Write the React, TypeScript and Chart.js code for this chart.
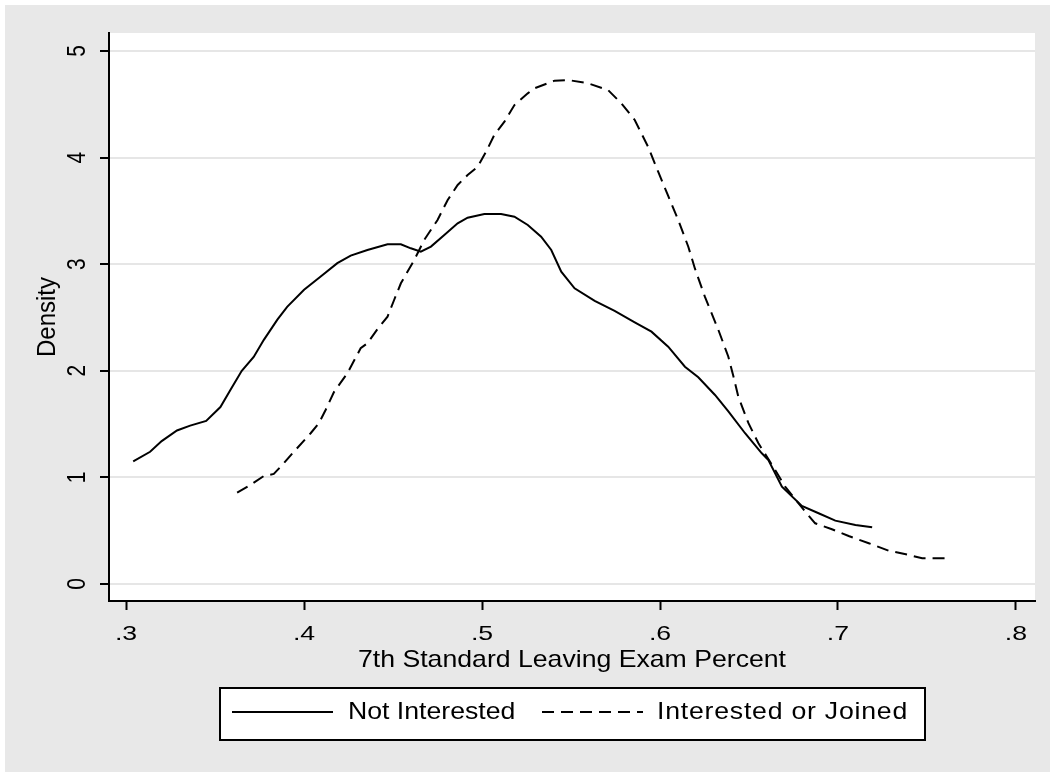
import React, { useEffect, useRef } from "react";
import { Chart, registerables } from "chart.js";

Chart.register(...registerables);

// ---- data ----
const notInterestedX = [
  0.304, 0.3135, 0.32, 0.3286, 0.336, 0.345, 0.353, 0.3586, 0.365, 0.3717, 0.3774, 0.385, 0.3905, 0.4, 0.409,
  0.4187, 0.4262, 0.4356, 0.4469, 0.4544, 0.46, 0.4656, 0.4713, 0.4788, 0.4863, 0.4919, 0.5013, 0.5107, 0.5182,
  0.5257, 0.5332, 0.5389, 0.5445, 0.552, 0.5633, 0.5745, 0.5858, 0.5952, 0.6046, 0.614, 0.6215, 0.6309, 0.6384,
  0.6478, 0.6572, 0.6609, 0.6685, 0.6797, 0.6891, 0.6985, 0.7098, 0.7192,
];
const notInterestedY = [
  1.15, 1.24, 1.34, 1.44, 1.485, 1.53, 1.66, 1.82, 2.0, 2.13, 2.29, 2.48, 2.6, 2.76, 2.88,
  3.01, 3.08, 3.133, 3.187, 3.187, 3.149, 3.118, 3.165, 3.274, 3.384, 3.436, 3.471, 3.471, 3.446,
  3.368, 3.258, 3.133, 2.93, 2.774, 2.655, 2.561, 2.455, 2.367, 2.226, 2.038, 1.939, 1.773, 1.62,
  1.414, 1.226, 1.163, 0.913, 0.732, 0.663, 0.594, 0.553, 0.532,
];
const interestedX = [
  0.3624, 0.3699, 0.3774, 0.383, 0.3886, 0.3943, 0.4037, 0.4083, 0.4121, 0.4168, 0.4243, 0.4318, 0.4356, 0.4412,
  0.4469, 0.4506, 0.4544, 0.4619, 0.4675, 0.475, 0.4807, 0.4863, 0.4919, 0.4976, 0.5023, 0.5069, 0.5126, 0.5182,
  0.5257, 0.5295, 0.5408, 0.5483, 0.5596, 0.5708, 0.5783, 0.5858, 0.5933, 0.5989, 0.6046, 0.6102, 0.6159, 0.6196,
  0.6252, 0.6328, 0.6384, 0.6412, 0.644, 0.6497, 0.6553, 0.6647, 0.6703, 0.6816, 0.6872, 0.6966, 0.706, 0.7173,
  0.7285, 0.7398, 0.7473, 0.7624,
];
const interestedY = [
  0.857, 0.929, 1.013, 1.032, 1.132, 1.241, 1.414, 1.507, 1.632, 1.8, 1.976, 2.211, 2.258, 2.39,
  2.508, 2.664, 2.821, 3.039, 3.227, 3.415, 3.602, 3.743, 3.837, 3.915, 4.056, 4.212, 4.337, 4.493,
  4.603, 4.65, 4.722, 4.728, 4.697, 4.634, 4.509, 4.353, 4.102, 3.87, 3.64, 3.415, 3.164, 2.96,
  2.695, 2.383, 2.132, 1.95, 1.757, 1.508, 1.32, 1.069, 0.913, 0.678, 0.569, 0.513, 0.45, 0.382,
  0.312, 0.272, 0.241, 0.241,
];
const xTickValues = [0.3, 0.4, 0.5, 0.6, 0.7, 0.8];
const xTickLabels = [".3", ".4", ".5", ".6", ".7", ".8"];
const yTickValues = [0, 1, 2, 3, 4, 5];
const yTickLabels = ["0", "1", "2", "3", "4", "5"];
const seriesNames = ["Not Interested", "Interested or Joined"];
const xTitle = "7th Standard Leaving Exam Percent";
const yTitle = "Density";

const TICK_FONT = { size: 21, stretch: 1.27 };
const TITLE_FONT = { size: 24, stretch: 1.11 };
const DASH = [12, 7];

function drawText(
  ctx: CanvasRenderingContext2D,
  text: string,
  x: number,
  y: number,
  align: CanvasTextAlign,
  f: { size: number; stretch: number },
  rotate = false,
  spacing = 0
) {
  ctx.save();
  ctx.translate(x, y);
  ctx.scale(f.stretch, 1);
  if (rotate) ctx.rotate(-Math.PI / 2);
  ctx.font = `${f.size}px "Liberation Sans", Arial, sans-serif`;
  (ctx as any).letterSpacing = `${spacing}px`;
  ctx.fillStyle = "#000";
  ctx.textAlign = align;
  ctx.textBaseline = "middle";
  ctx.fillText(text, 0, 0);
  ctx.restore();
}

const decorPlugin = {
  id: "stataDecor",
  beforeDraw(chart: any) {
    const ctx = chart.ctx as CanvasRenderingContext2D;
    const { left, right, top, bottom } = chart.chartArea;
    ctx.save();
    ctx.fillStyle = "#ffffff";
    ctx.fillRect(0, 0, chart.width, chart.height);
    ctx.fillStyle = "#e8e8e8";
    ctx.fillRect(5, 5, chart.width - 5, chart.height - 5);
    ctx.fillStyle = "#ffffff";
    ctx.fillRect(left, top, right - left, bottom - top);
    ctx.restore();
  },
  afterDraw(chart: any) {
    const ctx = chart.ctx as CanvasRenderingContext2D;
    const xs = chart.scales.x;
    const ys = chart.scales.y;
    const { left, right, top, bottom } = chart.chartArea;
    yTickValues.forEach((v, i) => {
      drawText(ctx, yTickLabels[i], left - 31, ys.getPixelForValue(v), "center", TICK_FONT, true);
    });
    xTickValues.forEach((v, i) => {
      drawText(ctx, xTickLabels[i], xs.getPixelForValue(v), bottom + 33, "center", TICK_FONT);
    });
    drawText(ctx, xTitle, (left + right) / 2, bottom + 59, "center", TITLE_FONT);
    drawText(ctx, yTitle, left - 61, (top + bottom) / 2, "center", TITLE_FONT, true);
    // legend
    const lx = 220, ly = 688, lw = 705, lh = 52;
    ctx.save();
    ctx.fillStyle = "#fff";
    ctx.fillRect(lx, ly, lw, lh);
    ctx.strokeStyle = "#000";
    ctx.lineWidth = 2;
    ctx.strokeRect(lx, ly, lw, lh);
    const cy = ly + 24;
    ctx.beginPath();
    ctx.moveTo(232, cy);
    ctx.lineTo(333, cy);
    ctx.stroke();
    ctx.setLineDash(DASH);
    ctx.beginPath();
    ctx.moveTo(542, cy);
    ctx.lineTo(643, cy);
    ctx.stroke();
    ctx.restore();
    drawText(ctx, seriesNames[0], 348, cy, "left", TITLE_FONT);
    drawText(ctx, seriesNames[1], 657, cy, "left", TITLE_FONT, false, 0.7);
  },
};

export default function App() {
  const ref = useRef<HTMLCanvasElement | null>(null);
  useEffect(() => {
    if (!ref.current) return;
    const chart = new Chart(ref.current, {
      type: "scatter",
      data: {
        datasets: [
          {
            label: seriesNames[0],
            data: notInterestedX.map((x, i) => ({ x, y: notInterestedY[i] })),
            showLine: true,
            borderColor: "#000",
            borderWidth: 2,
            pointRadius: 0,
            tension: 0,
          },
          {
            label: seriesNames[1],
            data: interestedX.map((x, i) => ({ x, y: interestedY[i] })),
            showLine: true,
            borderColor: "#000",
            borderWidth: 2,
            borderDash: DASH,
            pointRadius: 0,
            tension: 0,
          },
        ],
      },
      options: {
        animation: false,
        responsive: false,
        devicePixelRatio: 1,
        layout: { padding: { left: 0, top: 33, right: 15, bottom: 0 } },
        plugins: { legend: { display: false }, tooltip: { enabled: false } },
        scales: {
          x: {
            type: "linear",
            min: 0.2904,
            max: 0.8107,
            afterFit: (s: any) => { s.height = 171; },
            afterBuildTicks: (s: any) => { s.ticks = xTickValues.map((value) => ({ value })); },
            ticks: { display: false },
            grid: { drawOnChartArea: false, drawTicks: true, tickLength: 9, tickColor: "#000", tickWidth: 2 },
            border: { display: true, color: "#000", width: 2 },
          },
          y: {
            type: "linear",
            min: -0.16,
            max: 5.169,
            afterFit: (s: any) => { s.width = 109; },
            afterBuildTicks: (s: any) => { s.ticks = yTickValues.map((value) => ({ value })); },
            ticks: { display: false },
            grid: { color: "#e6e6e6", lineWidth: 2, drawTicks: true, tickLength: 9, tickColor: "#000", tickWidth: 2 },
            border: { display: true, color: "#000", width: 2 },
          },
        },
      },
      plugins: [decorPlugin],
    } as any);
    return () => chart.destroy();
  }, []);
  return (
    <div style={{ position: "absolute", left: 0, top: 0, width: 1050, height: 772 }}>
      <canvas ref={ref} width={1050} height={772} style={{ display: "block" }} />
    </div>
  );
}
